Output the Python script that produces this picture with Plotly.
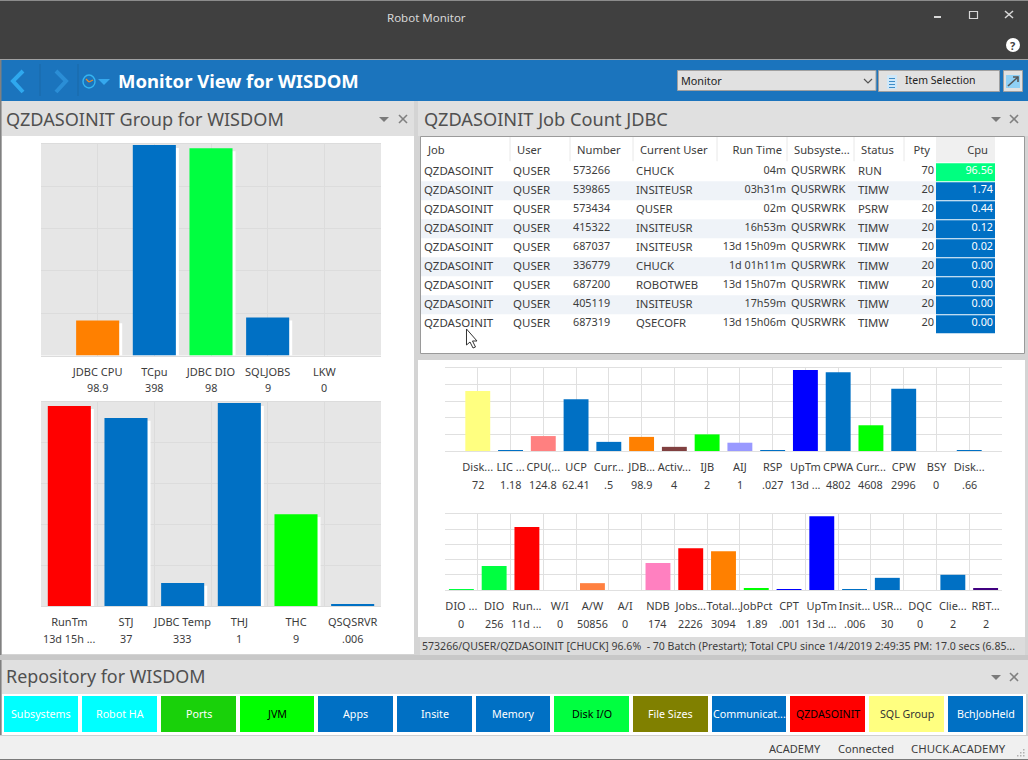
import plotly.graph_objects as go

W, H = 1028, 760
BLUE = "#0070c4"; RED = "#ff0000"; LIME = "#00ff00"; GREEN2 = "#00ff40"; ORANGE = "#ff8000"
NAVY = "#0000ff"; YEL = "#ffff80"; PINK = "#ff8080"; TEXT = "#3c3c3c"
FONT = "Noto Sans"

# ---- data -------------------------------------------------------------
a_labels = ["JDBC CPU", "TCpu", "JDBC DIO", "SQLJOBS", "LKW"]
a_values = ["98.9", "398", "98", "9", "0"]
a_heights = [16.6, 99.5, 98, 18, 0]
a_colors = [ORANGE, BLUE, GREEN2, BLUE, BLUE]

b_labels = ["RunTm", "STJ", "JDBC Temp", "THJ", "THC", "QSQSRVR"]
b_values = ["13d 15h ...", "37", "333", "1", "9", ".006"]
b_heights = [98, 92.2, 11.3, 99.5, 45, 0.7]
b_colors = [RED, BLUE, BLUE, BLUE, LIME, BLUE]

c_labels = ["Disk...", "LIC ...", "CPU(...", "UCP", "Curr...", "JDB...", "Activ...", "IJB", "AIJ", "RSP",
            "UpTm", "CPWA", "Curr...", "CPW", "BSY", "Disk..."]
c_values = ["72", "1.18", "124.8", "62.41", ".5", "98.9", "4", "2", "1", ".027",
            "13d ...", "4802", "4608", "2996", "0", ".66"]
c_heights = [72.3, 1.2, 18, 62.4, 11, 17, 5, 20, 10, 1, 97.6, 95, 31, 75, 0, 1]
c_colors = [YEL, BLUE, PINK, BLUE, BLUE, ORANGE, "#804040", LIME, "#9999ff", BLUE,
            NAVY, BLUE, LIME, BLUE, BLUE, BLUE]

d_labels = ["DIO ...", "DIO", "Run...", "W/I", "A/W", "A/I", "NDB", "Jobs...", "Total...", "JobPct", "CPT",
            "UpTm", "Insit...", "USR...", "DQC", "Clie...", "RBT..."]
d_values = ["0", "256", "11d ...", "0", "50856", "0", "174", "2226", "3094", "1.89", ".001",
            "13d ...", ".006", "30", "0", "2", "2"]
d_heights = [1.3, 31.6, 83, 0, 9, 0, 35.5, 55, 51, 2.5, 1.3, 97, 1.3, 16, 0, 20, 2.5]
d_colors = [GREEN2, GREEN2, RED, RED, "#ff8040", RED, "#ff80c0", RED, ORANGE, LIME, NAVY,
            NAVY, BLUE, BLUE, BLUE, BLUE, "#400080"]

t_job = ["QZDASOINIT"] * 9
t_user = ["QUSER"] * 9
t_number = ["573266", "539865", "573434", "415322", "687037", "336779", "687200", "405119", "687319"]
t_current = ["CHUCK", "INSITEUSR", "QUSER", "INSITEUSR", "INSITEUSR", "CHUCK", "ROBOTWEB", "INSITEUSR", "QSECOFR"]
t_runtime = ["04m", "03h31m", "02m", "16h53m", "13d 15h09m", "1d 01h11m", "13d 15h07m", "17h59m", "13d 15h06m"]
t_subsys = ["QUSRWRK"] * 9
t_status = ["RUN", "TIMW", "PSRW", "TIMW", "TIMW", "TIMW", "TIMW", "TIMW", "TIMW"]
t_pty = ["70", "20", "20", "20", "20", "20", "20", "20", "20"]
t_cpu = ["96.56", "1.74", "0.44", "0.12", "0.02", "0.00", "0.00", "0.00", "0.00"]
t_headers = ["Job", "User", "Number", "Current User", "Run Time", "Subsyste...", "Status", "Pty", "Cpu"]

tile_names = ["Subsystems", "Robot HA", "Ports", "JVM", "Apps", "Insite", "Memory", "Disk I/O", "File Sizes",
              "Communicat...", "QZDASOINIT", "SQL Group", "BchJobHeld"]
tile_fill = ["#00ffff", "#00ffff", "#19d10a", LIME, BLUE, BLUE, BLUE, GREEN2, "#808000", BLUE, RED, YEL, BLUE]
tile_ink = ["white", "white", "white", "black", "white", "white", "white", "black", "white", "white", "black", "#333333", "white"]

# ---- layout helpers -----------------------------------------------------
def px(x): return x / W
def py(y): return 1 - y / H

shapes, annots = [], []

def rect(x0, y0, x1, y1, fill, line=None, width=1, layer="below"):
    shapes.append(dict(type="rect", xref="paper", yref="paper", x0=px(x0), x1=px(x1), y0=py(y1), y1=py(y0),
                       fillcolor=fill, line=dict(color=line or "rgba(0,0,0,0)", width=width if line else 0), layer=layer))

def poly(pts, fill=None, line=None, width=1, close=True, layer="below"):
    d = "M " + " L ".join(f"{px(x):.5f} {py(y):.5f}" for x, y in pts) + (" Z" if close else "")
    shapes.append(dict(type="path", xref="paper", yref="paper", path=d, fillcolor=fill or "rgba(0,0,0,0)",
                       line=dict(color=line or "rgba(0,0,0,0)", width=width if line else 0), layer=layer))

def label(x, y, text, size=12, color=TEXT, anchor="left", bold=False):
    annots.append(dict(xref="paper", yref="paper", x=px(x), y=py(y), text=f"<b>{text}</b>" if bold else text,
                       showarrow=False, xanchor=anchor, yanchor="middle", xshift=0, yshift=0,
                       font=dict(family=FONT, size=size, color=color), borderpad=0, borderwidth=0))

def pane_tools(xt, xx, y):
    poly([(xt - 5, y - 2), (xt + 5, y - 2), (xt, y + 3)], fill="#7a7a7a")
    poly([(xx - 4, y - 4), (xx + 4, y + 4)], line="#808080", width=1.6, close=False)
    poly([(xx - 4, y + 4), (xx + 4, y - 4)], line="#808080", width=1.6, close=False)

# ---- chrome ------------------------------------------------------------
rect(0, 0, W, H, "#d4d4d4")
rect(0, 0, W, 59, "#404040")
rect(0, 0, W, 1, "#8c8c8c")
rect(0, 59, W, 60, "#a0a0a0")
rect(0, 60, W, 101, "#1b74bd")
rect(0, 60, 1.5, 736, "#808080")
for sx in (39.5, 77.5):
    rect(sx, 64, sx + 1, 96, "#1a68a8")
label(426, 18, "Robot Monitor", 11.5, "#d8d8d8", "center")
rect(934, 16, 941, 18, "#d8d8d8")
rect(969.5, 11.5, 977.5, 18.5, "rgba(0,0,0,0)", "#d8d8d8", 1.2)
poly([(1005, 11), (1013, 18)], line="#d8d8d8", width=1.5, close=False)
poly([(1005, 18), (1013, 11)], line="#d8d8d8", width=1.5, close=False)
shapes.append(dict(type="circle", xref="paper", yref="paper", x0=px(1006), x1=px(1020), y0=py(52), y1=py(38),
                   fillcolor="white", line=dict(width=0), layer="below"))
label(1013, 45, "<b>?</b>", 11, "#404040", "center")
poly([(23, 71), (13, 81), (23, 92)], line="#2fa8ee", width=4, close=False)
poly([(56, 71), (66, 81), (56, 92)], line="#2b8ed6", width=4, close=False)
shapes.append(dict(type="circle", xref="paper", yref="paper", x0=px(83), x1=px(95), y0=py(88), y1=py(75),
                   fillcolor="rgba(0,0,0,0)", line=dict(color="#35b4f0", width=1.4), layer="below"))
poly([(89, 82), (86, 79)], line="#f08a24", width=1.2, close=False)
poly([(89, 82), (93, 80)], line="#f08a24", width=1.2, close=False)
poly([(98, 79), (110, 79), (104, 85)], fill="#35a8ee")
label(118, 80.5, "Monitor View for WISDOM", 18.5, "white", bold=True)
rect(677.5, 70.5, 876, 90.5, "#e1e1e1", "#a0a0a0")
label(681, 80.5, "Monitor", 10.8, "#222222")
poly([(864, 79), (868, 83), (872, 79)], line="#555555", width=1.2, close=False)
rect(878.5, 70.5, 999.5, 91.5, "#e1e1e1", "#a0a0a0")
rect(887, 75, 897, 89, "#cfe8fa")
for ly in (78, 81, 84, 87):
    rect(889, ly, 895, ly + 1, "#3f8ec8")
label(905, 80.5, "Item Selection", 10.5, "#222222")
rect(1003.5, 70.5, 1022.5, 91.5, "#e1e1e1", "#a0a0a0")
rect(1006, 75, 1020, 88, "#8fd0f5")
poly([(1008, 86), (1018, 77)], line="#555555", width=1.6, close=False)
poly([(1013, 77), (1018, 77), (1018, 82)], line="#555555", width=1.6, close=False)

# panes
rect(2, 101, 414, 136, "#e0e0e0")
rect(418, 101, W, 136, "#e0e0e0")
rect(2, 136, 414, 654, "white")
rect(418, 360, 1025, 637, "white")
rect(420.5, 136.5, 1024.5, 353.5, "white", "#9a9a9a")
rect(420, 637, 1025, 655, "#dcdcdc")
rect(0, 655, W, 660, "#c8c8c8")
rect(2, 660, W, 694, "#e0e0e0")
rect(2, 694, 1026, 735, "white")
rect(0, 735, W, 760, "#f0f0f0")
rect(0, 735, W, 736, "#d0d0d0")
rect(0, 759, W, 760, "#7a7a7a")
label(6, 119, "QZDASOINIT Group for WISDOM", 18.1, "#505050")
label(424, 119, "QZDASOINIT Job Count JDBC", 18.2, "#505050")
label(6, 676, "Repository for WISDOM", 17.9, "#505050")
pane_tools(384, 403, 119)
pane_tools(996, 1014, 119)
pane_tools(996, 1014, 677)
label(422, 645.5, "573266/QUSER/QZDASOINIT [CHUCK] 96.6%  - 70 Batch (Prestart); Total CPU since 1/4/2019 2:49:35 PM: 17.0 secs (6.85...", 10.55, TEXT)
label(769, 748, "ACADEMY", 11, TEXT)
label(838, 748, "Connected", 11.1, TEXT)
label(911, 748, "CHUCK.ACADEMY", 11.4, TEXT)
for gx, gy in [(1023, 749), (1020, 752), (1023, 752), (1017, 755), (1020, 755), (1023, 755)]:
    rect(gx, gy, gx + 1.5, gy + 1.5, "#b0b0b0")

# tiles
tile_edges = [(4, 78), (82, 157), (161, 236), (240, 314), (318, 393), (397, 472), (476, 550),
              (554, 629), (633, 708), (712, 786), (790, 865), (869, 944), (948, 1023)]
for (x0, x1), name, fill, ink in zip(tile_edges, tile_names, tile_fill, tile_ink):
    rect(x0, 696, x1, 732, fill)
    label((x0 + x1) / 2, 714, name, 10.7, ink, "center")

# plot backgrounds for the two grey charts
rect(41, 144, 381, 355.5, "#e6e6e6")
rect(41, 402, 381, 606.5, "#e6e6e6")

# ---- charts ------------------------------------------------------------
fig = go.Figure()

CHARTS = [
    dict(n="", box=(41, 144, 381, 355.5), span=6, shift=1.0, lab=a_labels, val=a_values, h=a_heights, col=a_colors,
         grid="#dcdcdc", bw=0.76, shadow=True, major=True, v_y=387),
    dict(n="2", box=(41, 402, 381, 606), span=6, shift=0.5, lab=b_labels, val=b_values, h=b_heights, col=b_colors,
         grid="#dcdcdc", bw=0.76, shadow=True, major=False, v_y=638),
    dict(n="3", box=(445, 368, 1002, 451), span=17, shift=1.0, lab=c_labels, val=c_values, h=c_heights, col=c_colors,
         grid="#e0e0e0", bw=0.76, shadow=False, major=True, v_y=484),
    dict(n="4", box=(445, 514, 1002, 590), span=17, shift=0.5, lab=d_labels, val=d_values, h=d_heights, col=d_colors,
         grid="#e0e0e0", bw=0.76, shadow=False, major=False, v_y=623),
]
axes = {}
for c in CHARTS:
    xa, ya = "x" + c["n"], "y" + c["n"]
    x0, y0, x1, y1 = c["box"]
    pos = [i + c["shift"] for i in range(len(c["h"]))]
    if c["shadow"]:
        u = c["span"] / (x1 - x0)   # data units per pixel
        fig.add_trace(go.Bar(x=pos, y=[max(v - 1.4, 0) for v in c["h"]], xaxis=xa, yaxis=ya, width=c["bw"],
                             offset=-c["bw"] / 2 + 3 * u, marker=dict(color="white", line=dict(width=0)),
                             hoverinfo="skip", showlegend=False))
    fig.add_trace(go.Bar(x=pos, y=c["h"], xaxis=xa, yaxis=ya, width=c["bw"],
                         marker=dict(color=c["col"], line=dict(width=0)), showlegend=False))
    for p, v in zip(pos, c["val"]):
        annots.append(dict(xref=xa, yref="paper", x=p, y=py(c["v_y"]), text=v, showarrow=False, xanchor="center",
                           yanchor="middle", font=dict(family=FONT, size=10.8, color=TEXT), borderpad=0))
    xkey = "xaxis" + c["n"]; ykey = "yaxis" + c["n"]
    axes[xkey] = dict(domain=[px(x0), px(x1)], range=[0, c["span"]], tickmode="array", tickvals=pos, ticktext=c["lab"],
                      tickangle=0, ticks="", showgrid=c["major"], gridcolor=c["grid"], gridwidth=1, zeroline=False,
                      showline=True, mirror=True, linecolor=c["grid"], linewidth=1, anchor=ya,
                      ticklabelstandoff=6, tickfont=dict(family=FONT, size=11, color=TEXT),
                      minor=dict(tickmode="linear", tick0=0, dtick=1, showgrid=not c["major"], gridcolor=c["grid"],
                                 gridwidth=1, ticks=""))
    axes[ykey] = dict(domain=[py(y1), py(y0)], range=[0, 100], tick0=0, dtick=20, showticklabels=False, ticks="",
                      showgrid=True, gridcolor=c["grid"], gridwidth=1, zeroline=False, anchor=xa, showline=False)

# ---- table (x in pixels of the canvas, y in rows, 19 px per row) --------
TX0, TX1, TY0, TY1, R0, RH = 421, 995, 137, 353, 171.7, 19.0
axes["xaxis5"] = dict(domain=[px(TX0), px(TX1)], range=[TX0, TX1], visible=False, anchor="y5")
axes["yaxis5"] = dict(domain=[py(TY1), py(TY0)], range=[(TY1 - R0) / RH, (TY0 - R0) / RH], visible=False, anchor="x5")

rows = list(range(len(t_job)))
for r in rows:
    if r % 2:
        shapes.append(dict(type="rect", xref="x5", yref="y5", x0=TX0, x1=936, y0=r - .5, y1=r + .5,
                           fillcolor="#eff3f8", line=dict(width=0), layer="below"))
    shapes.append(dict(type="rect", xref="x5", yref="y5", x0=936, x1=995, y0=r - .45, y1=r + .5,
                       fillcolor="#00ff80" if r == 0 else BLUE, line=dict(width=0), layer="below"))
shapes.append(dict(type="rect", xref="x5", yref="y5", x0=936, x1=995, y0=(TY0 - R0) / RH, y1=-.5,
                   fillcolor="#f0f0f0", line=dict(width=0), layer="below"))
for sep in (510, 570, 633, 717, 787, 854, 904):
    shapes.append(dict(type="line", xref="x5", yref="y5", x0=sep, x1=sep, y0=(TY0 - R0) / RH, y1=-.55,
                       line=dict(color="#e8e8e8", width=1), layer="below"))
poly([(962, 138), (969, 138), (965.5, 141.5)], fill="#35b4e8")

columns = [(t_job, 424, "middle right", 11.5), (t_user, 513, "middle right", 11.5), (t_number, 573, "middle right", 10.8),
           (t_current, 636, "middle right", 11.3), (t_runtime, 786, "middle left", 10.8), (t_subsys, 791, "middle right", 11.2),
           (t_status, 858, "middle right", 11.3), (t_pty, 934, "middle left", 11), (t_cpu, 993, "middle left", 10.8)]
for col, cx, tp, fs in columns:
    ink = ["white"] * len(col) if col is t_cpu else TEXT
    fig.add_trace(go.Scatter(x=[cx] * len(col), y=rows, text=col, mode="text", textposition=tp, xaxis="x5", yaxis="y5",
                             textfont=dict(family=FONT, size=fs, color=ink), hoverinfo="skip", showlegend=False))
head_x = [(428, "middle right"), (517, "middle right"), (577, "middle right"), (640, "middle right"), (782, "middle left"),
          (794, "middle right"), (861, "middle right"), (930, "middle left"), (988, "middle left")]
for h, (cx, tp) in zip(t_headers, head_x):
    fig.add_trace(go.Scatter(x=[cx], y=[-1.09], text=[h], mode="text", textposition=tp, xaxis="x5", yaxis="y5",
                             textfont=dict(family=FONT, size=11.2, color=TEXT), hoverinfo="skip", showlegend=False))

# mouse pointer
poly([(466.5, 329), (466.5, 345), (470, 342), (473, 348), (475.5, 347), (472.5, 341), (477, 341)],
     fill="white", line="#333333", width=1, layer="above")

fig.update_layout(width=W, height=H, autosize=False, margin=dict(l=0, r=0, t=0, b=0), paper_bgcolor="#d4d4d4",
                  plot_bgcolor="rgba(0,0,0,0)", barmode="overlay", showlegend=False, shapes=shapes, annotations=annots,
                  font=dict(family=FONT, size=12, color=TEXT), **axes)
fig.write_html("out.html", config=dict(displayModeBar=False),
               post_script="document.body.style.margin='0';document.body.style.overflow='hidden';")
